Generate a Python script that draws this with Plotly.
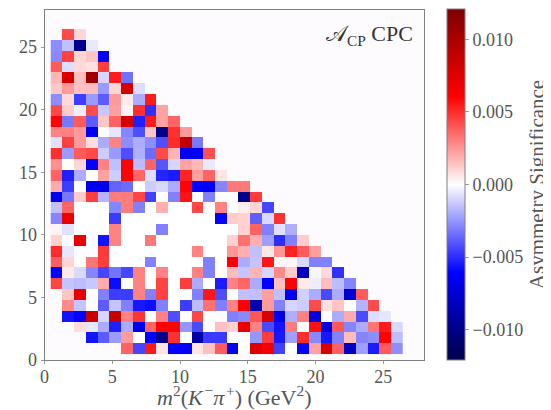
import plotly.graph_objects as go

N = None
# cell values in units of 1e-3, listed from the top row downward
rows_top_down = [
 [0.1,4.3,1.0],
 [-2.7,-1.5,-9.9,-0.5],
 [-2.8,4.5,1.0,1.4,-6.0],
 [3.9,-0.8,0.9,0.7,4.6],
 [1.7,8.0,1.5,10.5,-1.0,5.4,-3.4],
 [1.3,2.4,1.5,1.6,-2.4,1.0,8.0,-0.8],
 [-2.7,0.9,-4.6,-2.4,-3.9,2.4,0.5,-2.0,5.4],
 [4.3,1.2,-0.4,4.3,-1.3,2.3,0.3,4.9,-4.9,2.2],
 [6.0,-3.2,3.9,-3.9,1.4,3.7,8.0,-5.3,5.4,2.2,3.7],
 [3.0,3.0,2.4,-6.7,0.0,-0.6,-2.9,-4.2,1.4,-10.0,4.9,2.4],
 [-0.7,4.5,2.4,0.8,-2.0,3.0,-2.7,-2.0,-2.7,-4.2,5.0,9.1,-3.2],
 [4.9,-2.4,3.9,4.3,-1.2,-2.4,-4.2,-1.9,-3.5,4.3,1.8,-6.5,-6.5,4.2],
 [2.6,0.0,1.0,-6.0,3.0,-1.5,6.0,-1.6,3.7,-4.0,-1.0,2.2,1.7,-0.5],
 [3.7,-5.3,-2.0,0.0,2.2,-1.2,6.0,3.6,-0.8,-5.2,-5.4,5.2,2.3,3.7,0.6],
 [2.0,-4.6,0.0,-6.6,-6.6,-3.7,-3.5,0.0,-1.2,-0.9,-2.0,6.0,-6.0,-6.3,-2.9,3.2,3.2],
 [-6.7,-3.2,1.2,4.6,-1.8,3.1,3.1,4.4,-4.5,0.0,-3.0,5.6,0.0,-3.0,0.0,0.0,-10.0,4.7],
 [-1.5,3.7,0,0,0,-2.9,3.1,-3.0,0,1.9,0,0,4.4,0,3.0,0,0.4,1.0,-4.4],
 [-2.9,6.9,0,0,0,-4.7,0,0,0,0,0,0,0,0,-6.0,1.2,1.1,-3.8,-0.9,4.9],
 [0.3,-0.7,0,0,0,3.0,0,0,0,-3.0,0,0,0,0,0,0,1.1,3.7,-3.0,-0.7,-1.9],
 [1.1,0,7.0,0,-5.6,3.0,0,0,3.2,0,0,0,0,0,0,1.1,3.4,1.9,-2.3,-5.0,-3.0,1.2],
 [5.0,-0.6,0,0,4.7,0,0,0,0,0,0,0,3.0,0,0,2.5,1.9,-1.5,0.6,2.5,5.3,3.9,2.3],
 [3.8,1.0,0,3.3,4.6,0,0,0,-3.0,0,0,0,0,-3.0,0,6.2,-2.0,-1.4,5.5,0.2,0.2,-0.9,-3.0,-3.0],
 [-6.0,0.5,-0.9,-2.9,-4.4,-3.3,-4.4,3.0,0,3.0,0,0,3.0,-3.0,0,1.6,-1.4,1.8,-1.0,2.8,1.2,-8.0,-0.2,0.9,-4.9],
 [4.4,-1.4,-1.6,-1.3,2.0,-5.8,0,3.0,0,4.5,0,4.6,-2.0,0,-5.4,3.0,3.6,-2.0,-6.3,1.5,6.0,0.5,-0.4,1.6,-1.6,-2.9],
 [N,1.4,7.0,0,-3.0,-4.6,-4.6,3.0,-3.0,4.5,0,0,-3.0,5.5,-4.2,0,-1.5,-1.5,2.3,-1.5,-6.5,-1.1,-2.0,-4.3,-2.0,-7.5,3.9],
 [N,2.8,-1.4,0,-3.9,-1.4,-3.0,-5.5,-5.7,-3.0,0,-4.6,-1.6,3.4,-3.0,3.0,6.1,-8.9,2.4,-3.0,-1.0,-1.2,4.3,0.7,1.4,0,-1.8,4.3],
 [N,-5.6,-6.0,8.5,-1.0,8.7,3.0,4.8,0,3.0,-4.2,0,4.4,0,0,-3.0,-2.8,4.0,8.0,-6.6,-1.9,3.0,-7.0,0,-2.0,2.0,-4.3,-0.8,-0.6],
 [N,N,0.8,-0.6,-2.0,-5.3,-2.0,-6.7,3.7,6.0,6.0,-2.5,-4.3,0,1.5,1.1,7.0,3.0,-4.3,-5.6,3.1,0,5.7,-7.0,4.0,-2.9,-2.0,3.3,5.4,-0.9],
 [N,N,N,-5.6,-3.9,-2.4,2.4,0,-6.0,-10.0,4.9,0,-9.0,-4.7,-4.7,0,0,-2.5,4.6,-5.5,-2.3,5.0,-2.8,-5.5,-3.0,1.6,-2.9,-2.7,6.0,-1.6],
 [N,N,N,N,N,N,3.7,-4.4,5.5,0.6,-6.0,-6.2,0.6,1.5,3.9,-6.5,0,7.5,6.5,-4.5,0,-6.0,2.2,8.0,3.8,-8.0,-2.3,-5.4,3.9,-2.7],
]
x_ticks = [0, 5, 10, 15, 20, 25]
y_ticks = [0, 5, 10, 15, 20, 25]
cbar_ticks = [-0.010, -0.005, 0.0, 0.005, 0.010]
cbar_labels = ["\u22120.010", "\u22120.005", "0.000", "0.005", "0.010"]

n_bins = 30
z = []
for r in reversed(rows_top_down):
    r = list(r) + [None] * (n_bins - len(r))
    z.append([None if v is None else v * 1e-3 for v in r])

FONT = "Liberation Serif"
TXT = "#555555"
LINE = "#808080"
# the page keeps its 8px body margin, so the figure is 8px smaller than the window
W, H = 543, 402
PL, PR, PT, PB = 36.5, 416, 1.5, 352   # plot frame in figure pixels

seismic = [[0, "rgb(0,0,76)"], [0.25, "rgb(0,0,255)"], [0.5, "rgb(255,255,255)"],
           [0.75, "rgb(255,0,0)"], [1, "rgb(127,0,0)"]]

fig = go.Figure(go.Heatmap(
    z=z, x0=0.893, dx=0.866, y0=0.893, dy=0.866,
    colorscale=seismic, zmin=-0.0121, zmax=0.0121,
    hoverongaps=False,
    colorbar=dict(
        lenmode="fraction", len=(PB - PT) / H, y=(H - PB) / H, yanchor="bottom", yref="container",
        xref="container", x=439 / W, xanchor="left",
        xpad=0, ypad=0,
        thicknessmode="pixels", thickness=18,
        outlinecolor=LINE, outlinewidth=1,
        tickvals=cbar_ticks, ticktext=cbar_labels,
        ticks="outside", ticklen=4, tickwidth=1, tickcolor="#999999",
        tickfont=dict(family=FONT, size=18, color=TXT),
        title=dict(text="Asymmetry Significance", side="right",
                   font=dict(family=FONT, size=21, color=TXT)),
    ),
))
axis = dict(range=[0, 28], ticks="outside", ticklen=3, tickwidth=1,
            tickcolor="#999999", showgrid=False, zeroline=False, showline=True,
            linecolor=LINE, linewidth=1, mirror=True, automargin=False,
            tickfont=dict(family=FONT, size=18, color=TXT))
fig.update_xaxes(**axis, tickvals=x_ticks, domain=[PL / W, PR / W], ticklabelstandoff=-3,
                 title=dict(text="<i>m</i><sup>2</sup>(<i>K</i>\u200a<sup>\u2212</sup><i>\u03c0</i>\u200a<sup>+</sup>) (GeV<sup>2</sup>)",
                            font=dict(family=FONT, size=22, color=TXT), standoff=1))
fig.update_yaxes(**axis, tickvals=y_ticks, domain=[(H - PB) / H, (H - PT) / H])
fig.add_annotation(text="\U0001D49C<sub>CP</sub> CPC", xref="paper", yref="paper", x=407 / W, y=(H - 11) / H,
                   xanchor="right", yanchor="top", showarrow=False,
                   font=dict(family=FONT, size=22, color="#333333"))
fig.update_layout(width=W, height=H, margin=dict(l=0, r=0, t=0, b=0, autoexpand=False),
                  paper_bgcolor="white", plot_bgcolor="#fefbfe", showlegend=False)
fig.write_html("out.html")
